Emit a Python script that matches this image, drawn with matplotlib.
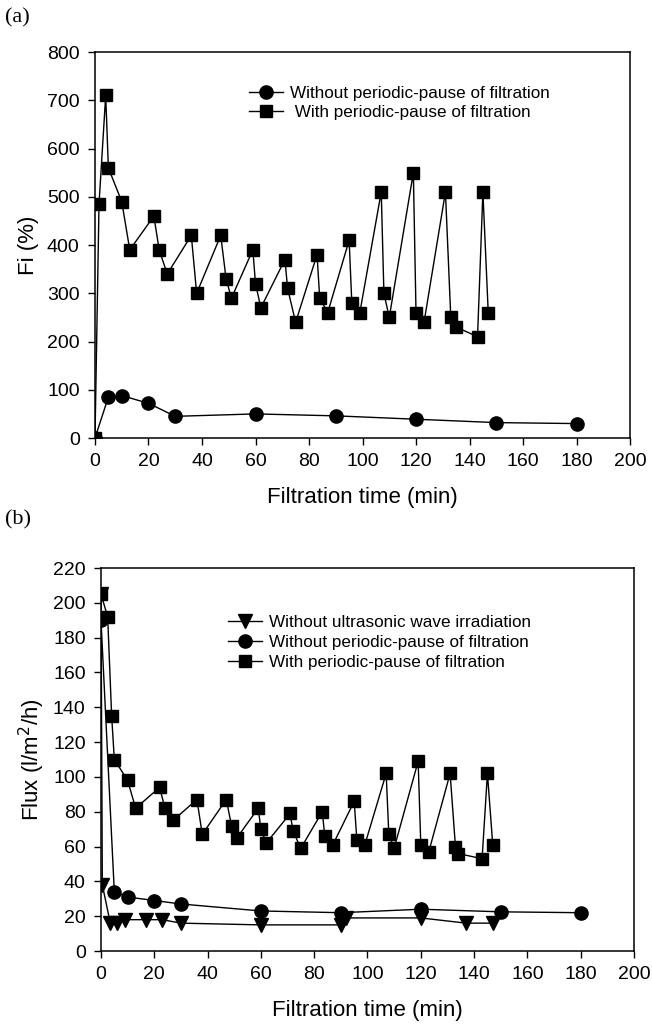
import matplotlib
matplotlib.use('Agg')
import matplotlib.pyplot as plt

plt.rcParams['font.family'] = ['Liberation Sans', 'DejaVu Sans']

# (a) Fi (%)
t_nopause_a = [0, 5, 10, 20, 30, 60, 90, 120, 150, 180]
fi_nopause = [0, 85, 88, 72, 45, 50, 46, 39, 32, 30]

t_pause = [0, 1.5, 4, 5, 10, 13, 22, 24, 27, 36, 38, 47, 49, 51, 59, 60, 62,
           71, 72, 75, 83, 84, 87, 95, 96, 99, 107, 108, 110, 119, 120, 123,
           131, 133, 135, 143, 145, 147]
fi_pause = [0, 485, 710, 560, 490, 390, 460, 390, 340, 420, 300, 420, 330, 290,
            390, 320, 270, 370, 310, 240, 380, 290, 260, 410, 280, 260, 510, 300,
            250, 550, 260, 240, 510, 250, 230, 210, 510, 260]

# (b) Flux (l/m2/h)
t_nous = [0, 0.5, 3.5, 6, 9, 17, 23, 30, 60, 90, 92, 120, 137, 147]
flux_nous = [205, 38, 16, 16, 18, 18, 18, 16, 15, 15, 19, 19, 16, 16]

t_nopause_b = [0, 5, 10, 20, 30, 60, 90, 120, 150, 180]
flux_nopause = [190, 34, 31, 29, 27, 23, 22, 24, 22.5, 22]

t_pause_b = [0, 2.5, 4, 5, 10, 13, 22, 24, 27, 36, 38, 47, 49, 51, 59, 60, 62,
             71, 72, 75, 83, 84, 87, 95, 96, 99, 107, 108, 110, 119, 120, 123,
             131, 133, 134, 143, 145, 147]
flux_pause = [205, 192, 135, 110, 98, 82, 94, 82, 75, 87, 67, 87, 72, 65, 82, 70,
              62, 79, 69, 59, 80, 66, 61, 86, 64, 61, 102, 67, 59, 109, 61, 57,
              102, 60, 56, 53, 102, 61]

lab_nous = 'Without ultrasonic wave irradiation'
lab_nopause = 'Without periodic-pause of filtration'
lab_pause = 'With periodic-pause of filtration'

fig = plt.figure(figsize=(6.52, 10.29), dpi=100)
ax1 = fig.add_axes([0.1457, 0.5743, 0.8206, 0.3751])
ax2 = fig.add_axes([0.1549, 0.0758, 0.8175, 0.3722])

kw = dict(color='black', lw=1.0, markeredgecolor='black', markerfacecolor='black')

ax1.plot(t_nopause_a, fi_nopause, marker='o', ms=9.5, label=lab_nopause, **kw)
ax1.plot(t_pause, fi_pause, marker='s', ms=8.5, label=' ' + lab_pause, **kw)
ax1.set_xlim(0, 200)
ax1.set_ylim(0, 800)
ax1.set_yticks(range(0, 801, 100))
ax1.set_ylabel('Fi (%)', fontsize=16, labelpad=6)

ax2.plot(t_nous, flux_nous, marker='v', ms=9.5, label=lab_nous, **kw)
ax2.plot(t_nopause_b, flux_nopause, marker='o', ms=9.5, label=lab_nopause, **kw)
ax2.plot(t_pause_b, flux_pause, marker='s', ms=8.5, label=lab_pause, **kw)
ax2.set_xlim(0, 200)
ax2.set_ylim(0, 220)
ax2.set_yticks(range(0, 221, 20))
ax2.set_ylabel('Flux (l/m$^2$/h)', fontsize=16, labelpad=4)

for ax in (ax1, ax2):
    ax.set_xticks(range(0, 201, 20))
    ax.set_xlabel('Filtration time (min)', fontsize=16, labelpad=12)
    ax.tick_params(direction='out', length=5, width=1, labelsize=14, pad=6)
    for s in ax.spines.values():
        s.set_linewidth(1.1)
    ax.patch.set_visible(False)

ax1.legend(loc='upper left', bbox_to_anchor=(0.275, 0.93), frameon=False,
           fontsize=12.3, handlelength=2.0, handletextpad=0.4, labelspacing=0.25,
           borderaxespad=0)
ax2.legend(loc='upper left', bbox_to_anchor=(0.225, 0.895), frameon=False,
           fontsize=12.3, handlelength=2.0, handletextpad=0.4, labelspacing=0.3,
           borderaxespad=0)

fig.text(0.008, 0.978, '(a)', fontsize=16, family='Liberation Serif')
fig.text(0.008, 0.49, '(b)', fontsize=16, family='Liberation Serif')

fig.savefig('out.png', dpi=100)
